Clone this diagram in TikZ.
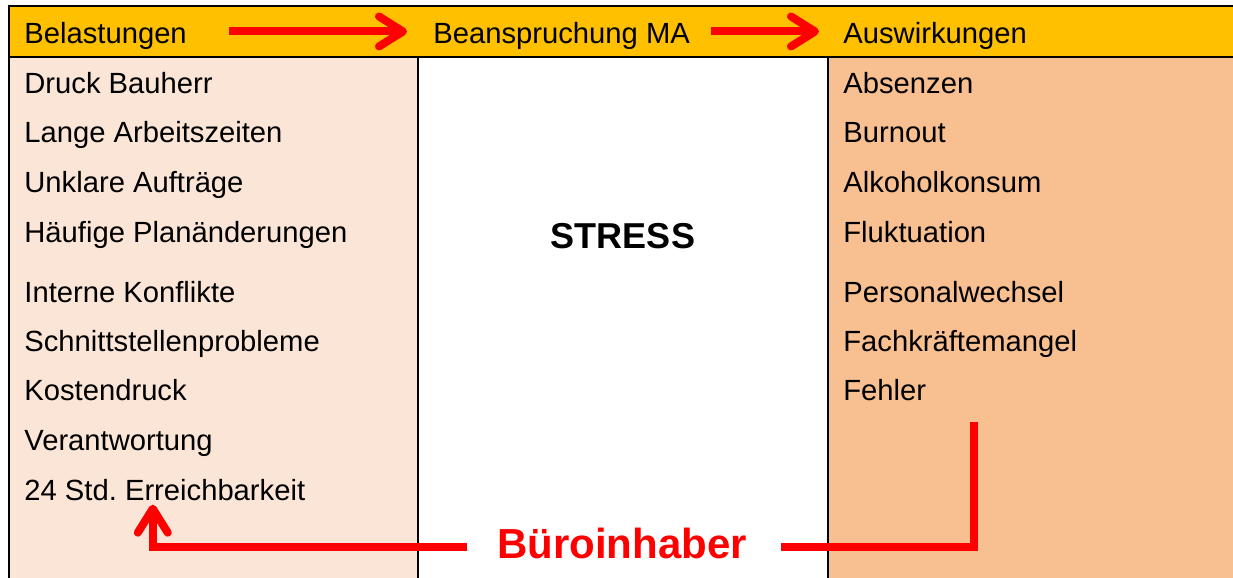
\documentclass[tikz,border=0pt]{standalone}
\usepackage{fontspec}
\setmainfont{Liberation Sans}
\usetikzlibrary{arrows.meta, positioning, calc}
\frenchspacing

\definecolor{headgold}{HTML}{FFC000}
\definecolor{loadpeach}{HTML}{FBE5D6}
\definecolor{effectorange}{HTML}{F8BF90}
\definecolor{arrowred}{HTML}{FF0000}

\begin{document}
\begin{tikzpicture}[x=0.5pt, y=-0.5pt,
    item/.style={anchor=base west, inner sep=0pt, font=\fontsize{14.6}{17}\selectfont},
    frame/.style={black, line width=1pt},
    redline/.style={line width=4pt, arrowred,
        preaction={draw=black, draw opacity=0.2, transform canvas={shift={(1pt,-1.5pt)}}}},
    redarrow/.style={redline, -{Straight Barb[length=12pt, width=15pt, round]}}]
    \useasboundingbox (0,0) rectangle (1233,578);

    % Column backgrounds
    \fill[headgold] (9,6) rectangle (1233,57);
    \fill[loadpeach] (9,57) rectangle (418,578);
    \fill[effectorange] (828,57) rectangle (1233,578);

    % Table rules
    \draw[frame] (1233,6) -- (9,6) -- (9,578);
    \draw[frame] (9,57) -- (1233,57);
    \draw[frame] (418,57) -- (418,578);
    \draw[frame] (828,57) -- (828,578);

    % Header row
    \node[item] (belHead) at (24,43) {Belastungen};
    \node[item] (beanHead) at (433,43) {Beanspruchung MA};
    \node[item] (ausHead) at (843,43) {Auswirkungen};

    % Loads
    \foreach \txt/\ypos [count=\i] in {Druck Bauherr/93, Lange Arbeitszeiten/142,
        Unklare Aufträge/192, Häufige Planänderungen/242, Interne Konflikte/302,
        Schnittstellenprobleme/351, Kostendruck/400, Verantwortung/450,
        24 Std. Erreichbarkeit/500} {
        \node[item] (bel\i) at (24,\ypos) {\txt};
    }

    % Effects
    \foreach \txt/\ypos [count=\i] in {Absenzen/93, Burnout/142, Alkoholkonsum/192,
        Fluktuation/242, Personalwechsel/302, Fachkräftemangel/351, Fehler/400} {
        \node[item] (aus\i) at (843,\ypos) {\txt};
    }

    % Strain
    \node[anchor=base, inner sep=0pt, font=\fontsize{18}{22}\selectfont\bfseries]
        (stress) at (623,248) {STRESS};
    \node[anchor=base, inner sep=0pt, text=arrowred, font=\fontsize{21}{25}\selectfont\bfseries]
        (buero) at (622,558) {Büroinhaber};

    % Flow arrows
    \draw[redarrow] ([xshift=21pt,yshift=2pt]belHead.east) -- ([xshift=-13pt,yshift=2pt]beanHead.west);
    \draw[redarrow] ([xshift=10.5pt,yshift=2pt]beanHead.east) -- ([xshift=-12pt,yshift=2pt]ausHead.west);

    % Owner feedback
    \coordinate (fehlerTop) at (974,422);
    \draw[redline] ([xshift=17pt,yshift=-2pt]buero.east) -| (fehlerTop);
    \draw[redarrow] ([xshift=-15pt,yshift=-2pt]buero.west) -| ([xshift=-6pt,yshift=-2pt]bel9.south);
\end{tikzpicture}
\end{document}
